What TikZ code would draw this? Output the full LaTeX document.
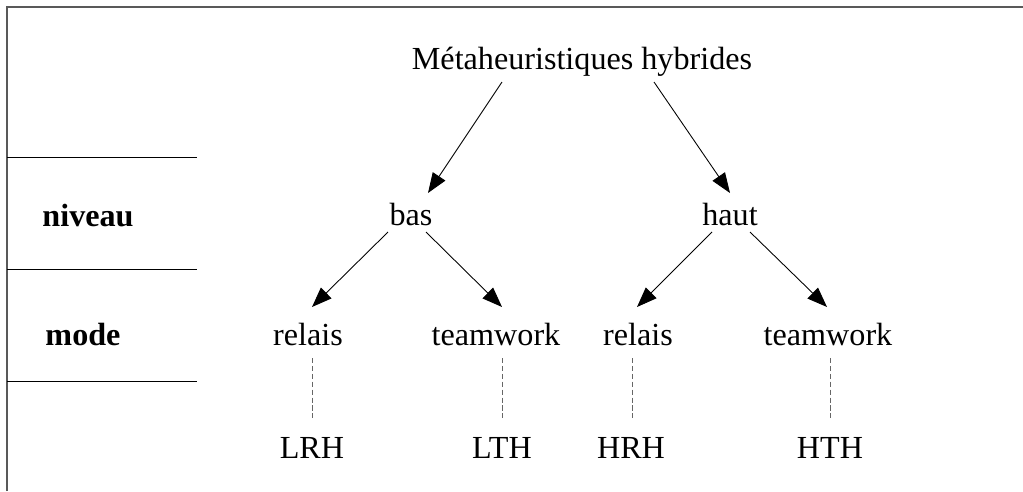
\documentclass[tikz,border=0pt]{standalone}
\usepackage{fontspec}
\setmainfont{Liberation Serif}
\usepackage{tikz}
\usetikzlibrary{arrows.meta,calc}

\begin{document}
\begin{tikzpicture}[x=0.02cm,y=-0.02cm,
  every node/.style={font=\fontsize{18.3}{22}\selectfont,inner sep=0pt,anchor=base},
  lbl/.style={font=\fontsize{18.3}{22}\selectfont\bfseries},
  arr/.style={-{Triangle[length=0.4cm,width=0.3cm]},line width=0.5pt},
  lien/.style={dashed,dash pattern=on 3pt off 1.5pt,gray!80!black,line width=0.5pt}]
\useasboundingbox (0,0) rectangle (1023,491);
% cadre et niveaux
\draw[gray!70!black,line width=1.2pt] (7,491) -- (7,7) -- (1023,7);
\foreach \y in {157,269,381}
  \draw[line width=0.5pt] (7,\y) -- (197,\y);
\node[lbl] (niveau) at (88,226) {niveau};
\node[lbl] (mode) at (83,345) {mode};
% arbre
\node (top) at (582,69) {Métaheuristiques hybrides};
\node (bas) at (411,225) {bas};
\node (haut) at (730,225) {haut};
\node (rl) at (308,345) {relais};
\node (tl) at (496,345) {teamwork};
\node (rh) at (638,345) {relais};
\node (th) at (828,345) {teamwork};
\node (lrh) at (312,458) {LRH};
\node (lth) at (502,458) {LTH};
\node (hrh) at (631,458) {HRH};
\node (hth) at (830,458) {HTH};
\draw[arr] ($(top.base)+(-80,13)$) -- ($(bas.base)+(17,-32)$);
\draw[arr] ($(top.base)+(72,13)$) -- ($(haut.base)+(0,-32)$);
\draw[arr] ($(bas.base)+(-23,7)$) -- ($(rl.base)+(4,-38)$);
\draw[arr] ($(bas.base)+(15,7)$) -- ($(tl.base)+(6,-38)$);
\draw[arr] ($(haut.base)+(-18,7)$) -- ($(rh.base)+(-1,-38)$);
\draw[arr] ($(haut.base)+(20,7)$) -- ($(th.base)+(-1,-38)$);
\draw[lien] ($(rl.base)+(4,13)$) -- ($(lrh.base)+(0,-40)$);
\draw[lien] ($(tl.base)+(6,13)$) -- ($(lth.base)+(0,-40)$);
\draw[lien] ($(rh.base)+(-6,13)$) -- ($(hrh.base)+(1,-40)$);
\draw[lien] ($(th.base)+(2,13)$) -- ($(hth.base)+(0,-40)$);
\end{tikzpicture}
\end{document}
